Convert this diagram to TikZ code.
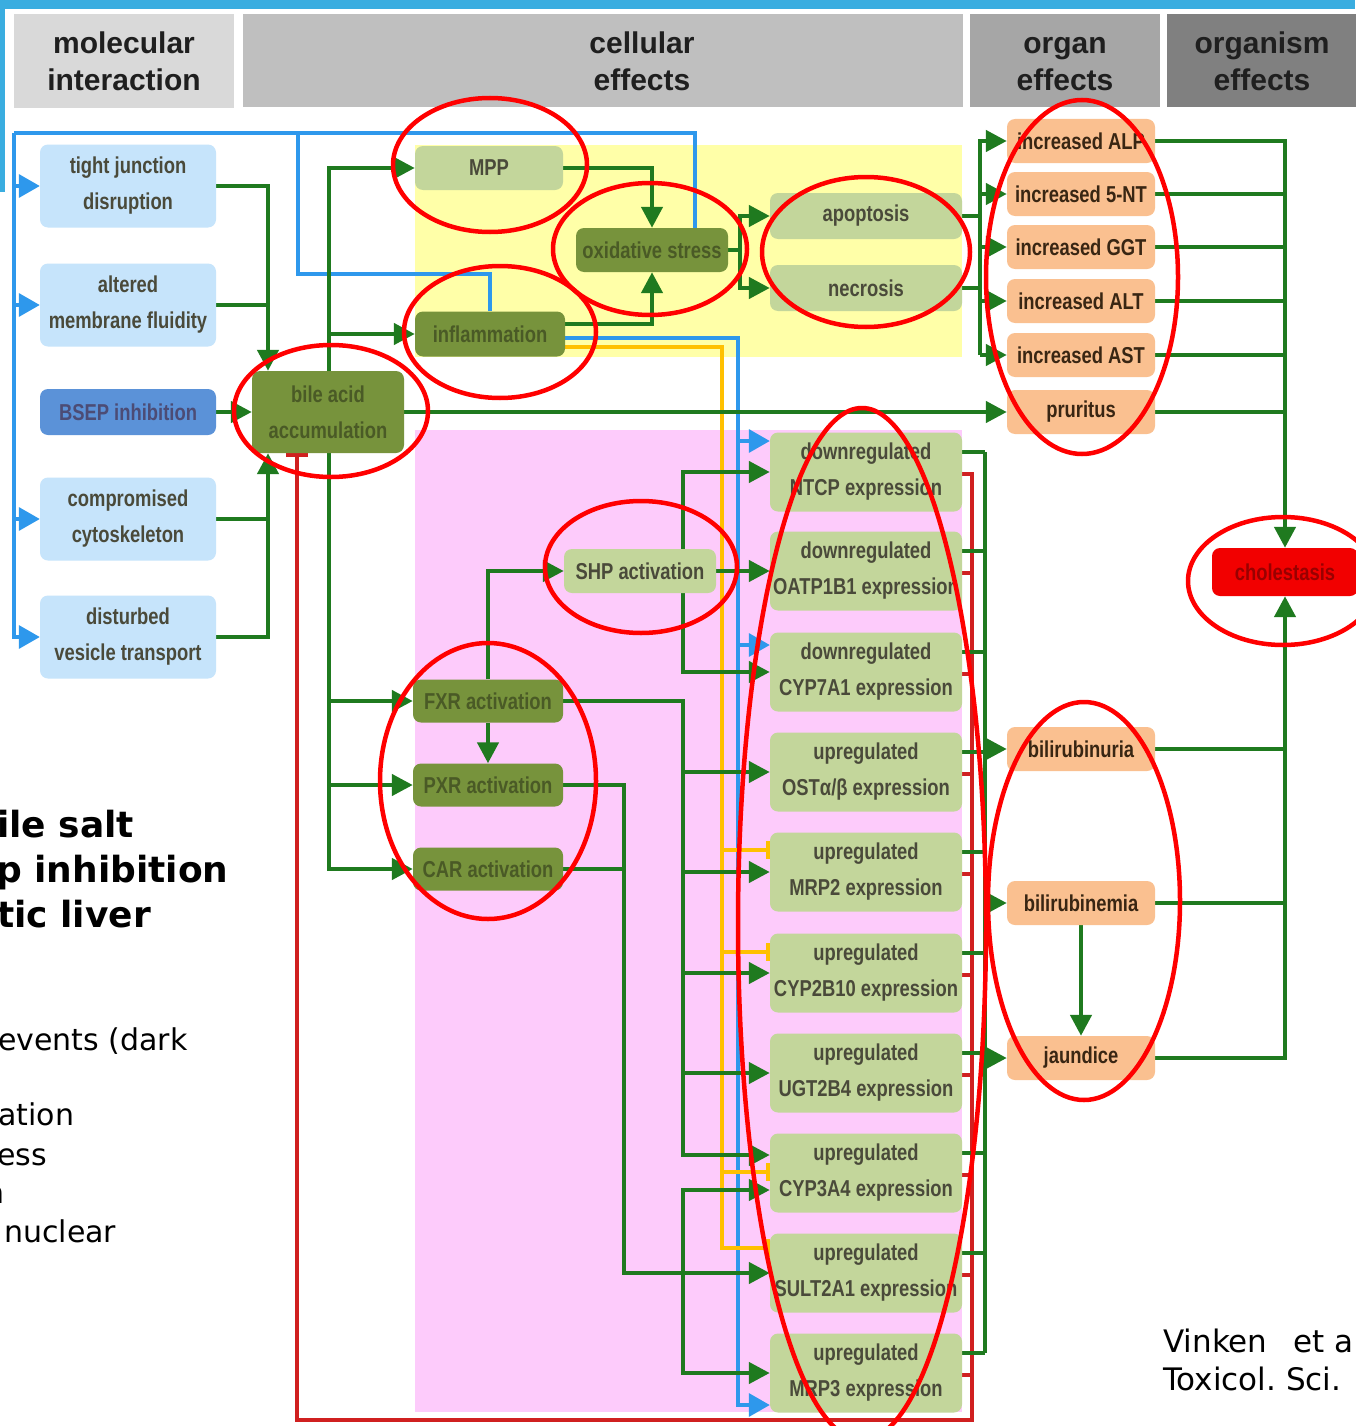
\documentclass[tikz,border=0pt]{standalone}
\usepackage{fontspec}
\usetikzlibrary{arrows.meta,calc}
\newfontfamily\boxfont[FakeStretch=0.8]{Liberation Sans}
\newfontfamily\headfont{Liberation Sans}
\newfontfamily\slidefont{DejaVu Sans}

\definecolor{topblue}{HTML}{3AADE0}
\definecolor{hdA}{HTML}{D9D9D9}
\definecolor{hdB}{HTML}{BFBFBF}
\definecolor{hdC}{HTML}{A6A6A6}
\definecolor{hdD}{HTML}{808080}
\definecolor{lbfill}{HTML}{C6E4FB}
\definecolor{bsepfill}{HTML}{5B92D8}
\definecolor{darkol}{HTML}{77933C}
\definecolor{lightol}{HTML}{C3D69B}
\definecolor{salmon}{HTML}{FAC090}
\definecolor{cholred}{HTML}{F20000}
\definecolor{yelreg}{HTML}{FFFFA8}
\definecolor{pinkreg}{HTML}{FDCBFB}
\definecolor{wgreen}{HTML}{1F7A1F}
\definecolor{wblue}{HTML}{2E98EC}
\definecolor{wyellow}{HTML}{FFC000}
\definecolor{wred}{HTML}{D02020}
\definecolor{ringred}{HTML}{FF0000}
\definecolor{txtgray}{HTML}{4A4A3A}
\definecolor{txtol}{HTML}{4A5A26}

\pgfdeclarelayer{regions}
\pgfdeclarelayer{wires}
\pgfsetlayers{regions,wires,main}

\tikzset{
  box/.style={rounded corners=8pt, align=center, inner sep=0pt,
    font={\boxfont\bfseries\fontsize{23}{36}\selectfont}},
  mie/.style={box, fill=lbfill, text=txtgray, minimum width=176pt, minimum height=83pt},
  bsepbox/.style={box, fill=bsepfill, text={black!60!blue!40!gray}, minimum width=176pt, minimum height=46pt},
  darkbox/.style={box, fill=darkol, text=txtol, minimum width=150pt, minimum height=43pt},
  lightbox/.style={box, fill=lightol, text=txtgray, minimum width=150pt, minimum height=44pt},
  exprbox/.style={box, fill=lightol, text=txtgray, minimum width=192pt, minimum height=79pt},
  organbox/.style={box, fill=salmon, text={black!70!brown}, minimum width=148pt, minimum height=44pt},
  hdr/.style={align=center, inner sep=0pt, text=black!88,
    font={\headfont\bfseries\fontsize{30}{37}\selectfont}},
  gw/.style={draw=wgreen, line width=4.5pt},
  garrow/.style={gw, -{Triangle[length=21pt,width=21pt]}},
  bw/.style={draw=wblue, line width=3.5pt},
  barrow/.style={bw, -{Triangle[length=21pt,width=23pt]}},
  ybar/.style={draw=wyellow, line width=3.5pt, -{Bar[width=18pt,line width=3.5pt]}},
  rw/.style={draw=wred, line width=3.5pt},
  rbar/.style={rw, -{Bar[width=22pt,line width=3.5pt]}},
  ring/.style={draw=ringred, line width=4.5pt},
  slidebold/.style={inner sep=0pt, anchor=base west, font={\slidefont\bfseries\fontsize{36}{40}\selectfont}},
  slidetext/.style={inner sep=0pt, anchor=base west, font={\slidefont\fontsize{30}{36}\selectfont}}
}

\begin{document}
\begin{tikzpicture}[x=1pt,y=-1pt]
\useasboundingbox (0,0) rectangle (1355,1426);

% slide frame pieces
\fill[topblue] (0,0) rectangle (1355,9);
\fill[topblue] (0,0) rectangle (5,192);

% column headers
\node[hdr, fill=hdA, minimum width=220pt, minimum height=94pt] (hmol) at (124,61) {molecular\\interaction};
\node[hdr, fill=hdB, minimum width=720pt, minimum height=93pt] (hcel) at (603,61) {};
\node[hdr] (hcelt) at (642,61) {cellular\\effects};
\node[hdr, fill=hdC, minimum width=190pt, minimum height=93pt] (horg) at (1065,61) {organ\vphantom{l}\\effects};
\node[hdr, fill=hdD, minimum width=190pt, minimum height=93pt] (hors) at (1262,61) {organism\\effects};

% slide text partly hidden behind the diagram
\node[slidebold] (s1) at (-3,837) {ile salt};
\node[slidebold] (s2) at (-4,882) {p inhibition};
\node[slidebold] (s3) at (-3,927) {tic liver};
\node[slidetext] (s4) at (-2,1050) {events (dark};
\node[slidetext] (s5) at (-2,1125) {ation};
\node[slidetext] (s6) at (-3,1165) {ess};
\node[slidetext, anchor=base east] (s7) at (5,1203) {n};
\node[slidetext] (s8) at (4,1242) {nuclear};
\node[slidetext, font={\slidefont\fontsize{31}{36}\selectfont}] (ref1) at (1163,1352) {Vinken\hspace{26pt}et a};
\node[slidetext, font={\slidefont\fontsize{31}{36}\selectfont}] (ref2) at (1163,1390) {Toxicol.\ Sci.};

% molecular initiating events
\node[mie] (tj)  at (128,186) {tight junction\\disruption};
\node[mie] (amf) at (128,305) {altered\\membrane fluidity};
\node[bsepbox] (bsep) at (128,412) {BSEP inhibition};
\node[mie] (cc)  at (128,519) {compromised\\cytoskeleton};
\node[mie] (dvt) at (128,637) {disturbed\\vesicle transport};

% cellular key events
\node[darkbox, minimum width=152pt, minimum height=82pt] (bile) at (328,412) {bile acid\\accumulation};
\node[lightbox, minimum width=148pt] (mpp) at (489,168) {MPP};
\node[darkbox, minimum height=45pt] (infl) at (490,334) {inflammation};
\node[darkbox, minimum width=152pt, minimum height=44pt] (ox) at (652,250) {oxidative stress};
\node[lightbox, minimum width=192pt, minimum height=46pt] (apo) at (866,216) {apoptosis};
\node[lightbox, minimum width=192pt, minimum height=46pt] (nec) at (866,288) {necrosis};
\node[lightbox, minimum width=152pt] (shp) at (640,571) {SHP activation};
\node[darkbox] (fxr) at (488,701) {FXR activation};
\node[darkbox] (pxr) at (488,785) {PXR activation};
\node[darkbox] (car) at (488,869) {CAR activation};

\node[exprbox] (e1)  at (866,472)  {downregulated\\NTCP expression};
\node[exprbox] (e2)  at (866,571)  {downregulated\\OATP1B1 expression};
\node[exprbox] (e3)  at (866,672)  {downregulated\\CYP7A1 expression};
\node[exprbox] (e4)  at (866,772)  {upregulated\\OSTα/β expression};
\node[exprbox] (e5)  at (866,872)  {upregulated\\MRP2 expression};
\node[exprbox] (e6)  at (866,973)  {upregulated\\CYP2B10 expression};
\node[exprbox] (e7)  at (866,1073) {upregulated\\UGT2B4 expression};
\node[exprbox] (e8)  at (866,1173) {upregulated\\CYP3A4 expression};
\node[exprbox] (e9)  at (866,1273) {upregulated\\SULT2A1 expression};
\node[exprbox] (e10) at (866,1373) {upregulated\\MRP3 expression};

% organ effects
\node[organbox] (alp) at (1081,141) {increased ALP};
\node[organbox] (nt)  at (1081,194) {increased 5-NT};
\node[organbox] (ggt) at (1081,247) {increased GGT};
\node[organbox] (alt) at (1081,301) {increased ALT};
\node[organbox] (ast) at (1081,355) {increased AST};
\node[organbox] (pru) at (1081,412) {pruritus};
\node[organbox] (bu)  at (1081,749) {bilirubinuria};
\node[organbox] (bm)  at (1081,903) {bilirubinemia};
\node[organbox] (jau) at (1081,1058) {jaundice};

% organism effect
\node[box, fill=cholred, text={red!60!black}, minimum width=146pt, minimum height=48pt] (chol) at (1285,572) {cholestasis};

% page background and shaded compartments
\begin{pgfonlayer}{regions}
  \fill[white] (0,9) rectangle (1355,1426);
  \fill[topblue] (0,0) rectangle (5,192);
  \fill[yelreg] (415,145) rectangle (962,357);
  \fill[pinkreg] (415,430) rectangle (962,1412);
\end{pgfonlayer}

\begin{pgfonlayer}{wires}
  % rail x-positions
  \coordinate (gL) at (268,0);
  \coordinate (gB) at (329,0);
  \coordinate (gA) at (740,0);
  \coordinate (gR) at (980,0);
  \coordinate (gF) at (683,0);
  \coordinate (gP) at (624,0);
  \coordinate (gE) at (985,0);
  \coordinate (gC) at (1285,0);
  \coordinate (bCol) at (738,0);
  \coordinate (yCol) at (722,0);
  \coordinate (rCol) at (972,0);

  % blue: upstream triggers from the outer rail
  \coordinate (bTL) at (14,133);
  \coordinate (bSp) at (298,133);
  \coordinate (bTn) at (298,274);
  \draw[bw] ([xshift=43pt]ox.north) |- (bTL);
  \draw[barrow] (bTL) |- (dvt.west);
  \foreach \n in {tj,amf,cc} \draw[barrow] (bTL |- \n.west) -- (\n.west);
  \draw[bw] (bSp) -- (bTn) -| (infl.north);

  % blue: inflammation acting on transporter expression
  \coordinate (e1b) at ([yshift=31pt]e1.west);
  \coordinate (e3b) at ([yshift=27pt]e3.west);
  \coordinate (e10b) at ([yshift=-32pt]e10.west);
  \draw[barrow] ([yshift=-4pt]infl.east) -| (bCol |- e10b) -- (e10b);
  \draw[barrow] (bCol |- e1b) -- (e1b);
  \draw[barrow] (bCol |- e3b) -- (e3b);

  % yellow: inflammation suppressing expression
  \coordinate (e9y) at ([yshift=25pt]e9.west);
  \draw[ybar] ([yshift=-13pt]infl.east) -| (yCol |- e9y) -- (e9y);
  \foreach \n/\s in {e5/22,e6/21,e8/1} {
    \coordinate (yt) at ([yshift=\s pt]\n.west);
    \draw[ybar] (yCol |- yt) -- (yt);
  }

  % red: feedback onto bile acid accumulation
  \coordinate (rBot) at (972,1420);
  \coordinate (rEnd) at ([xshift=-31pt]bile.south);
  \draw[rbar] ([yshift=-2pt]e1.east) -| (rBot) -| (rEnd);
  \foreach \i in {2,...,10} {
    \coordinate (rt) at ([yshift=-2pt]e\i.east);
    \draw[rw] (rt) -- (rCol |- rt);
  }

  % green: molecular initiating events into bile acid accumulation
  \draw[garrow] (tj.east) -| (gL |- bile.north);
  \draw[gw] (amf.east) -- (gL |- amf.east);
  \draw[garrow] (bsep.east) -- (bile.west);
  \draw[garrow] (cc.east) -| (gL |- bile.south);
  \draw[gw] (dvt.east) -| (gL |- cc.east);

  % green: bile acid accumulation trunk
  \draw[garrow] (gB |- bile.center) |- (mpp.west);
  \draw[garrow] (gB |- infl.west) -- (infl.west);
  \draw[garrow] (gB |- bile.center) |- (car.west);
  \draw[garrow] (gB |- fxr.west) -- (fxr.west);
  \draw[garrow] (gB |- pxr.west) -- (pxr.west);
  \draw[garrow] (bile.east) -- (pru.west);

  % green: cell death branch
  \draw[garrow] (mpp.east) -| (ox.north);
  \draw[garrow] ([yshift=10pt]infl.east) -| (ox.south);
  \draw[gw] (ox.east) -- (gA |- ox.east);
  \draw[garrow] (gA |- ox.east) |- (apo.west);
  \draw[garrow] (gA |- ox.east) |- (nec.west);
  \draw[gw] (apo.east) -- (gR |- apo.east);
  \draw[gw] (nec.east) -- (gR |- nec.east);
  \draw[garrow] (gR |- ast.west) |- (alp.west);
  \foreach \n in {nt,ggt,alt,ast} \draw[garrow] (gR |- \n.west) -- (\n.west);

  % green: organ effects into cholestasis
  \foreach \n in {nt,ggt,alt,ast,pru,bu,bm} \draw[gw] (\n.east) -- (gC |- \n.east);
  \draw[garrow] (alp.east) -| (chol.north);
  \draw[garrow] (jau.east) -| (chol.south);
  \draw[garrow] (bm.south) -- (jau.north);

  % green: nuclear receptor signalling
  \draw[garrow] (fxr.north) |- (shp.west);
  \draw[garrow] (fxr.south) -- (pxr.north);
  \draw[garrow] (shp.east) -- (e2.west);
  \draw[garrow] (gF |- shp.center) |- (e1.west);
  \draw[garrow] (gF |- shp.center) |- (e3.west);
  \coordinate (e8up) at ([yshift=18pt]e8.west);
  \coordinate (e8dn) at ([yshift=-17pt]e8.west);
  \draw[garrow] (fxr.east) -| (gF |- e8up) -- (e8up);
  \foreach \n in {e4,e5,e6,e7} \draw[garrow] (gF |- \n.west) -- (\n.west);
  \draw[garrow] (pxr.east) -| (gP |- e9.west) -- (e9.west);
  \draw[gw] (car.east) -- (gP |- car.east);
  \draw[garrow] (gF |- e9.west) |- (e8dn);
  \draw[garrow] (gF |- e9.west) |- (e10.west);

  % green: transporter changes into bilirubin effects
  \foreach \i in {1,...,10} {
    \coordinate (gt\i) at ([yshift=20pt]e\i.east);
    \draw[gw] (gt\i) -- (gE |- gt\i);
  }
  \draw[gw] (gE |- gt1) -- (gE |- gt10);
  \foreach \n in {bu,bm,jau} \draw[garrow] (gE |- \n.west) -- (\n.west);
\end{pgfonlayer}

% highlighted key events
\draw[ring] (490,165) ellipse [x radius=97pt, y radius=67pt];
\draw[ring] (650,249) ellipse [x radius=97pt, y radius=66pt];
\draw[ring] (866,252) ellipse [x radius=104pt, y radius=75pt];
\draw[ring] (500,332) ellipse [x radius=96pt, y radius=66pt];
\draw[ring] (331,411) ellipse [x radius=97pt, y radius=66pt];
\draw[ring] (1082,277) ellipse [x radius=96pt, y radius=177pt];
\draw[ring] (641,567) ellipse [x radius=96pt, y radius=66pt];
\draw[ring] (488,781) ellipse [x radius=108pt, y radius=138pt];
\draw[ring] (862,924) ellipse [x radius=124pt, y radius=516pt];
\draw[ring] (1084,901) ellipse [x radius=96pt, y radius=199pt];
\draw[ring] (1283,581) ellipse [x radius=95pt, y radius=64pt];
\end{tikzpicture}
\end{document}
